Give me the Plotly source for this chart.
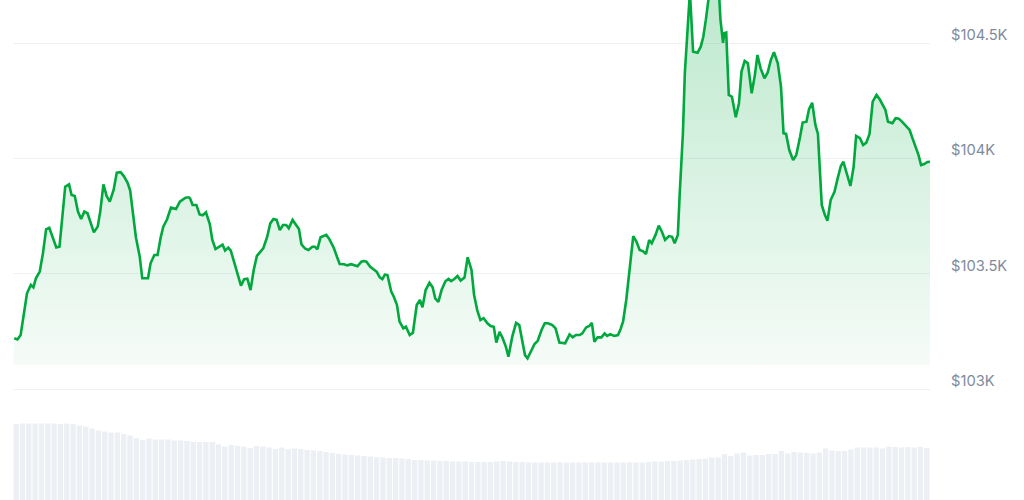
import plotly.graph_objects as go

# ---- Price series (minutes since window start, USD) ----
minutes = [2, 7, 12, 16, 22, 28, 32, 36, 42, 47, 52, 57, 62, 68, 73, 77, 82, 88, 92, 97,
           102, 107, 112, 117, 122, 127, 133, 137, 142, 147, 152, 158, 163, 169, 174, 180, 184, 189, 193, 199,
           203, 212, 216, 222, 227, 232, 236, 242, 248, 256, 262, 271, 276, 278, 282, 288, 293, 298, 303, 309,
           313, 318, 323, 329, 333, 338, 342, 347, 353, 358, 363, 368, 373, 378, 383, 388, 393, 399, 404, 409,
           414, 419, 424, 429, 433, 439, 444, 449, 453, 459, 464, 470, 474, 478, 483, 488, 492, 497, 504, 509,
           513, 520, 525, 531, 536, 541, 547, 551, 555, 561, 566, 571, 576, 580, 584, 588, 594, 598, 603, 607,
           613, 617, 623, 628, 634, 639, 643, 648, 654, 659, 663, 668, 673, 679, 684, 688, 693, 698, 703, 709,
           714, 720, 724, 729, 734, 739, 745, 750, 755, 759, 764, 769, 774, 778, 784, 790, 795, 799, 804, 808,
           814, 819, 824, 830, 835, 840, 847, 852, 858, 867, 874, 879, 884, 890, 894, 900, 905, 909, 913, 918,
           924, 929, 933, 938, 944, 950, 954, 958, 963, 967, 970, 974, 979, 984, 989, 994, 999, 1003, 1009, 1014,
           1019, 1024, 1030, 1035, 1039, 1044, 1047, 1052, 1055, 1059, 1063, 1068, 1075, 1080, 1084, 1088, 1093, 1100, 1109, 1111,
           1115, 1117, 1120, 1124, 1129, 1135, 1140, 1144, 1149, 1154, 1160, 1165, 1169, 1174, 1180, 1185, 1190, 1195, 1201, 1206,
           1210, 1214, 1219, 1225, 1230, 1236, 1240, 1246, 1250, 1255, 1260, 1264, 1270, 1275, 1279, 1284, 1290, 1295, 1300, 1304,
           1310, 1315, 1320, 1324, 1330, 1335, 1340, 1345, 1350, 1356, 1361, 1366, 1370, 1374, 1381, 1386, 1391, 1396, 1402, 1408,
           1412, 1417, 1422, 1426, 1431, 1436, 1440]

prices = [103220, 103215, 103234, 103313, 103415, 103451, 103441, 103480, 103509, 103588, 103692, 103699, 103660, 103614, 103617, 103733, 103877, 103887, 103841, 103837,
          103769, 103737, 103769, 103762, 103725, 103679, 103704, 103769, 103887, 103837, 103812, 103863, 103938, 103940, 103923, 103894, 103860, 103747, 103658, 103574,
          103480, 103480, 103545, 103581, 103581, 103658, 103704, 103736, 103786, 103780, 103812, 103829, 103831, 103827, 103798, 103798, 103757, 103753, 103766, 103715,
          103646, 103607, 103614, 103626, 103600, 103613, 103600, 103552, 103499, 103448, 103476, 103478, 103429, 103516, 103577, 103595, 103610, 103658, 103718, 103737,
          103733, 103689, 103711, 103711, 103697, 103733, 103715, 103694, 103627, 103608, 103603, 103617, 103617, 103606, 103658, 103663, 103668, 103649, 103610, 103571,
          103542, 103541, 103536, 103541, 103538, 103532, 103552, 103555, 103552, 103530, 103519, 103509, 103484, 103476, 103496, 103494, 103422, 103400, 103364, 103292,
          103263, 103270, 103234, 103244, 103364, 103386, 103354, 103429, 103461, 103441, 103393, 103378, 103429, 103467, 103477, 103468, 103477, 103490, 103470, 103483,
          103571, 103516, 103408, 103342, 103299, 103307, 103285, 103273, 103270, 103201, 103248, 103220, 103183, 103140, 103227, 103287, 103277, 103212, 103147, 103133,
          103166, 103195, 103209, 103256, 103285, 103285, 103277, 103263, 103201, 103198, 103237, 103224, 103234, 103234, 103241, 103267, 103273, 103287, 103205, 103224,
          103224, 103241, 103230, 103238, 103230, 103234, 103259, 103292, 103386, 103480, 103574, 103663, 103639, 103603, 103598, 103585, 103646, 103632, 103668, 103708,
          103682, 103646, 103663, 103660, 103632, 103668, 103848, 104109, 104369, 104542, 104721, 104462, 104458, 104484, 104527, 104600, 104708, 104739, 104699, 104600,
          104501, 104542, 104545, 104275, 104267, 104178, 104239, 104376, 104422, 104412, 104282, 104361, 104448, 104390, 104347, 104371, 104426, 104460, 104412, 104311,
          104109, 104106, 104036, 103993, 104014, 104094, 104155, 104159, 104213, 104241, 104145, 104106, 103798, 103754, 103730, 103819, 103855, 103913, 103967, 103985,
          103923, 103880, 103961, 104097, 104087, 104058, 104068, 104106, 104246, 104275, 104256, 104231, 104210, 104159, 104152, 104174, 104172, 104159, 104140, 104123,
          104091, 104050, 104014, 103971, 103975, 103984, 103985]

# ---- 24h rolling volume (billions USD), one bar per ~10 minutes ----
volume = [30.4, 30.6, 30.6, 30.6, 30.6, 30.6, 30.6, 30.4, 30.6, 30.4,
          29.8, 29.4, 28.6, 27.8, 27.4, 27.0, 27.0, 26.4, 25.8, 24.8,
          24.0, 24.6, 24.2, 24.2, 24.2, 23.8, 23.8, 23.6, 23.2, 23.2,
          23.2, 23.2, 22.2, 21.4, 22.0, 21.6, 21.4, 20.8, 21.6, 21.4,
          21.0, 20.4, 21.0, 20.4, 20.6, 20.4, 20.0, 19.8, 19.6, 19.2,
          18.8, 18.4, 18.2, 18.0, 17.8, 17.6, 17.4, 17.2, 17.0, 16.8,
          16.8, 16.6, 16.4, 16.0, 16.0, 15.8, 15.8, 15.6, 15.6, 15.4,
          15.4, 15.4, 15.2, 15.2, 15.2, 15.2, 15.4, 15.6, 15.4, 15.2,
          15.2, 15.0, 15.0, 15.0, 15.0, 15.0, 15.0, 15.0, 15.0, 15.0,
          15.0, 15.0, 15.0, 15.0, 15.0, 15.0, 15.0, 15.0, 15.0, 15.0,
          15.2, 15.4, 15.4, 15.6, 15.6, 15.8, 16.0, 16.2, 16.4, 16.6,
          17.0, 17.0, 18.4, 17.6, 18.6, 19.0, 17.8, 18.0, 18.0, 18.4,
          18.4, 19.6, 18.6, 19.2, 19.0, 18.8, 18.6, 19.0, 20.6, 19.8,
          19.6, 19.6, 20.2, 21.0, 21.0, 21.0, 21.0, 20.6, 21.4, 21.2,
          21.0, 21.2, 21.0, 21.2, 20.8]
bar_index = list(range(len(volume)))

# ---- Axis configuration values ----
tick_values = [103000, 103500, 104000, 104500]
tick_labels = ["$103K", "$103.5K", "$104K", "$104.5K"]
PRICE_RANGE = [102518.8, 104686.4]
FILL_BASE = 103104
WINDOW_MINUTES = [0, 1440]
VOLUME_RANGE = [0, 200]

GREEN = "#00a83e"

fig = go.Figure()

# volume bars (bottom strip)
fig.add_trace(go.Bar(
    x=bar_index, y=volume, xaxis="x2", yaxis="y2",
    marker=dict(color="#eceff3", line=dict(width=0)),
    hoverinfo="skip", showlegend=False,
))

# fill baseline
fig.add_trace(go.Scatter(
    x=WINDOW_MINUTES, y=[FILL_BASE, FILL_BASE], mode="lines",
    line=dict(width=0, color="rgba(0,0,0,0)"), hoverinfo="skip", showlegend=False,
))

# price line with gradient fill
fig.add_trace(go.Scatter(
    x=minutes, y=prices, mode="lines",
    line=dict(color=GREEN, width=2.6),
    fill="tonexty",
    fillgradient=dict(
        type="vertical",
        colorscale=[[0, "rgba(0,168,62,0.04)"], [1, "rgba(0,168,62,0.26)"]],
    ),
    showlegend=False,
))

fig.update_layout(
    width=1024, height=500,
    margin=dict(l=13, r=94, t=0, b=0),
    paper_bgcolor="white", plot_bgcolor="white",
    bargap=0.16,
    xaxis=dict(range=WINDOW_MINUTES, visible=False, showgrid=False, zeroline=False),
    xaxis2=dict(range=[-0.5, len(volume) - 0.5], overlaying="x", visible=False),
    yaxis=dict(
        range=PRICE_RANGE, side="right",
        tickvals=tick_values, ticktext=tick_labels,
        showgrid=True, gridcolor="#eff1f4", gridwidth=1,
        zeroline=False, showline=False, ticks="",
        ticklabelstandoff=20, ticklabelshift=-8,
        tickfont=dict(family="Inter", size=14.7, color="#808a9d"),
    ),
    yaxis2=dict(range=VOLUME_RANGE, overlaying="y", visible=False),
)

fig.write_html("out.html", config={"displayModeBar": False},
               post_script="document.body.style.margin='0';")
